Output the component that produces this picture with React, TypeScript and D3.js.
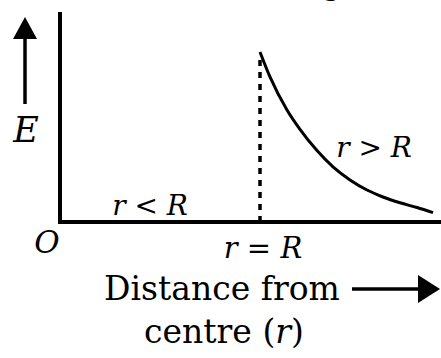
import React from 'react';
import * as d3 from 'd3';

// distance in units of R, field in units of E at the surface
const rDomain = [0, 1.905];
const eDomain = [0, 1.235];
const insideR = [0, 1];
const insideE = [0, 0];
const outsideR = [1.0, 1.05, 1.135, 1.2, 1.285, 1.365, 1.45, 1.535, 1.615, 1.7, 1.785, 1.865];
const outsideE = [1.0, 0.853, 0.659, 0.545, 0.42, 0.324, 0.247, 0.188, 0.147, 0.113, 0.085, 0.055];
const surfaceR = 1;

const width = 441;
const height = 358;
const font = '"DejaVu Serif", serif';

const App = () => {
  const x = d3.scaleLinear().domain(rDomain).range([60, 441]);
  const y = d3.scaleLinear().domain(eDomain).range([222, 12]);

  const line = d3.line<number>()
    .x((_, i) => x(outsideR[i]))
    .y(d => y(d))
    .curve(d3.curveMonotoneX);

  const inside = d3.line<number>()
    .x((_, i) => x(insideR[i]))
    .y(d => y(d));

  return (
    <svg width={width} height={height} style={{ position: 'absolute', left: 0, top: 0, background: '#fff' }}>
      {/* cropped caption from above */}
      <text x={332} y={-5} fontFamily={font} fontSize={30} textAnchor="middle">g</text>

      {/* axes */}
      <line x1={x(0)} x2={x(0)} y1={y(eDomain[1])} y2={y(0) + 2} stroke="#000" strokeWidth={4} />
      <line x1={x(0) - 2} x2={x(rDomain[1])} y1={y(0)} y2={y(0)} stroke="#000" strokeWidth={4} />
      <path d={inside(insideE) ?? ''} fill="none" stroke="#000" strokeWidth={4} />

      {/* r = R marker */}
      <line x1={x(surfaceR)} x2={x(surfaceR)} y1={y(0)} y2={y(1) + 6}
        stroke="#000" strokeWidth={3.5} strokeDasharray="6,6" />

      {/* field outside the sphere */}
      <path d={line(outsideE) ?? ''} fill="none" stroke="#000" strokeWidth={3} />

      {/* E arrow */}
      <line x1={25} x2={25} y1={104} y2={36} stroke="#000" strokeWidth={3.5} />
      <polygon points="25,17 13,39 37,39" fill="#000" />
      <text x={26} y={142} fontFamily={font} fontStyle="italic" fontSize={35} textAnchor="middle">E</text>
      <text x={47} y={253} fontFamily={font} fontStyle="italic" fontSize={31} textAnchor="middle">O</text>

      <text x={150} y={215} fontFamily={font} fontStyle="italic" fontSize={28} textAnchor="middle">r &lt; R</text>
      <text x={x(surfaceR) + 3} y={258} fontFamily={font} fontStyle="italic" fontSize={29} textAnchor="middle">r = R</text>
      <text x={374} y={157} fontFamily={font} fontStyle="italic" fontSize={28} textAnchor="middle">r &gt; R</text>

      <text x={222} y={300} fontFamily={font} fontSize={33} textAnchor="middle">Distance from</text>
      <line x1={352} x2={420} y1={289} y2={289} stroke="#000" strokeWidth={3.5} />
      <polygon points="440,289 418,275 418,303" fill="#000" />
      <text x={224} y={343} fontFamily={font} fontSize={33} textAnchor="middle">
        centre (<tspan fontStyle="italic">r</tspan>)
      </text>
    </svg>
  );
};

export default App;
